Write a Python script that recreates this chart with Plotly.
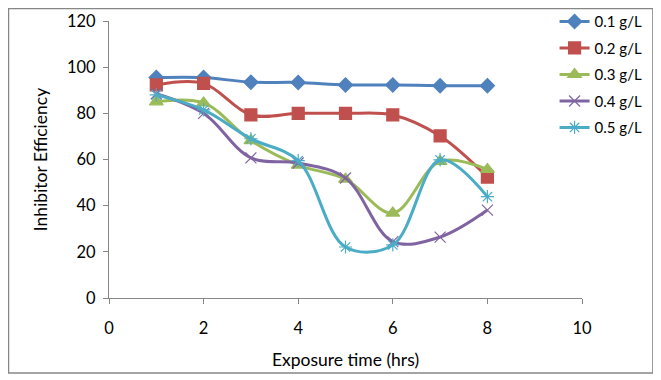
import plotly.graph_objects as go

hours = [1, 2, 3, 4, 5, 6, 7, 8]
series_names = ["0.1 g/L", "0.2 g/L", "0.3 g/L", "0.4 g/L", "0.5 g/L"]
s01 = [95.5, 95.5, 93.5, 93.4, 92.3, 92.3, 92.0, 92.0]
s02 = [92.3, 93.0, 79.3, 80.0, 80.0, 79.3, 70.2, 52.4]
s03 = [85.0, 84.5, 68.2, 57.6, 51.5, 36.8, 59.2, 55.7]
s04 = [88.5, 80.0, 60.7, 58.5, 52.0, 24.4, 26.4, 38.1]
s05 = [88.0, 81.5, 69.0, 59.5, 22.1, 23.0, 59.8, 43.9]
x_ticks = [0, 2, 4, 6, 8, 10]
y_ticks = [0, 20, 40, 60, 80, 100, 120]

colors = ["#4F81BD", "#C0504D", "#9BBB59", "#8064A2", "#4BACC6"]
symbols = ["diamond", "square", "triangle-up", "x-thin-open", "asterisk-open"]
msizes = [11, 12, 12, 11, 11]

fig = go.Figure()
for name, vals, c, sym, ms in zip(series_names, [s01, s02, s03, s04, s05], colors, symbols, msizes):
    fig.add_trace(go.Scatter(
        x=hours, y=vals, name=name, mode="lines+markers",
        legendgroup=name,
        line=dict(color=c, width=3, shape="spline", smoothing=1.0),
        marker=dict(symbol=sym, size=ms, color=c, line=dict(color=c, width=1.2)),
    ))

axis_color = "#868686"
font_family = "Lato, 'Open Sans', Arial, sans-serif"

# page body has an 8px default margin, so the figure is sized/offset to compensate
fig.update_layout(
    width=653, height=372,
    margin=dict(l=101, r=79, t=13, b=82, autoexpand=False),
    paper_bgcolor="white", plot_bgcolor="white",
    font=dict(family=font_family, size=16.5, color="black"),
    showlegend=True,
    legend=dict(x=0.942, y=1.057, xanchor="left", yanchor="top",
                font=dict(size=15), tracegroupgap=4, bgcolor="rgba(0,0,0,0)"),
    xaxis=dict(range=[0, 10], tickvals=x_ticks, showgrid=False, zeroline=False,
               showline=True, linecolor=axis_color, linewidth=1,
               ticks="outside", ticklen=5, tickcolor=axis_color, ticklabelstandoff=10,
               title=dict(text="Exposure time (hrs)", font=dict(size=17.5), standoff=16)),
    yaxis=dict(range=[0, 120], tickvals=y_ticks, showgrid=False, zeroline=False,
               showline=True, linecolor=axis_color, linewidth=1,
               ticks="outside", ticklen=5, tickcolor=axis_color, ticklabelstandoff=4,
               title=dict(text="Inhibitor Efficiency", font=dict(size=17.5), standoff=14)),
)

# outer chart border
fig.add_shape(type="rect", xref="paper", yref="paper",
              x0=-0.2125, x1=1.150, y0=-0.2708, y1=1.045,
              line=dict(color=axis_color, width=1.5), layer="below")

fig.write_html("out.html")
